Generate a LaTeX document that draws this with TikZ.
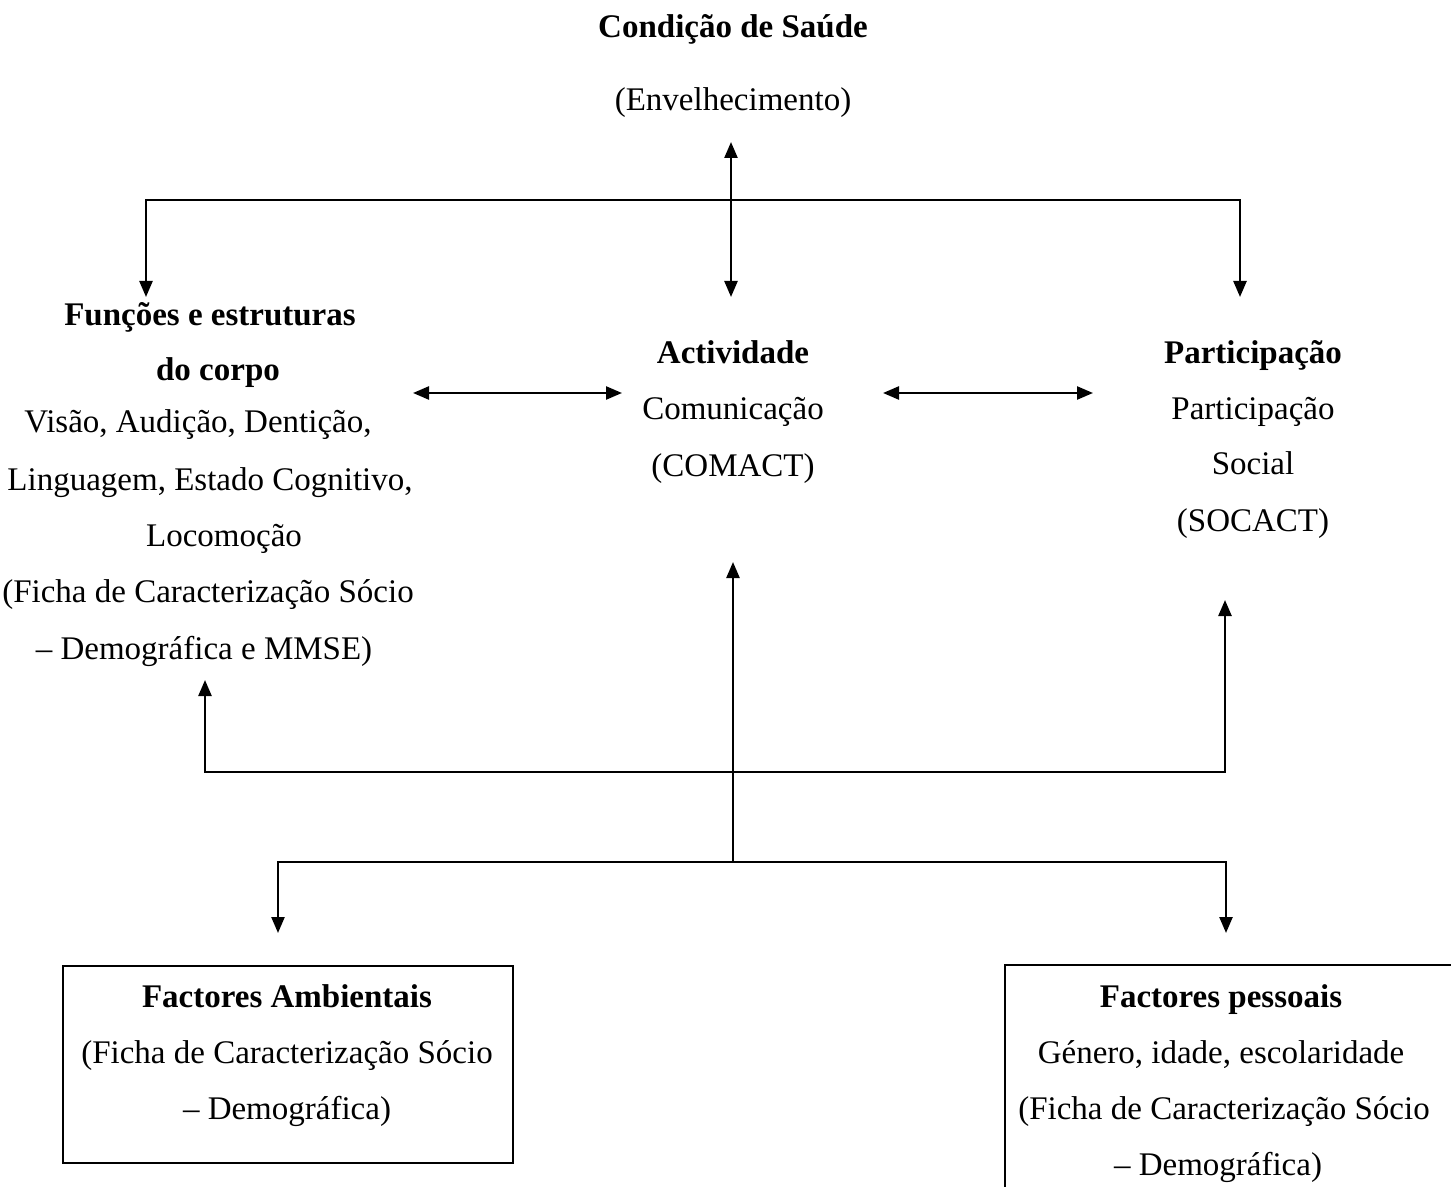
\documentclass[tikz,border=0pt]{standalone}
\usepackage{fontspec}
\setmainfont{Liberation Serif}
\usetikzlibrary{arrows.meta}
\begin{document}
\begin{tikzpicture}[x=0.5pt,y=-0.5pt,
  txt/.style={inner sep=0pt, anchor=base, font=\fontsize{16.5}{20}\selectfont},
  hd/.style={txt, font=\fontsize{16.5}{20}\selectfont\bfseries},
  conn/.style={line width=1.2pt},
  tip/.style={conn, -{Triangle[length=8pt,width=6.5pt]}},
  tips/.style={conn, {Triangle[length=8pt,width=6.5pt]}-{Triangle[length=8pt,width=6.5pt]}},
  boxline/.style={line width=1.2pt}
]
\useasboundingbox (0,0) rectangle (1451,1187);

% Top: health condition
\node[hd]  (cs)  at (733,38)  {Condição de Saúde};
\node[txt] (env) at (733,111) {(Envelhecimento)};

% Body functions
\node[hd]  (f1) at (210,326) {Funções e estruturas};
\node[hd]  (f2) at (218,381) {do corpo};
\node[txt] (f3) at (198,433) {Visão, Audição, Dentição,};
\node[txt] (f4) at (210,490) {Linguagem, Estado Cognitivo,};
\node[txt] (f5) at (224,546) {Locomoção};
\node[txt] (f6) at (208,602) {(Ficha de Caracterização Sócio};
\node[txt] (f7) at (204,659) {– Demográfica e MMSE)};

% Activity
\node[hd]  (a1) at (733,364) {Actividade};
\node[txt] (a2) at (733,420) {Comunicação};
\node[txt] (a3) at (733,476) {(COMACT)};

% Participation
\node[hd]  (p1) at (1253,364) {Participação};
\node[txt] (p2) at (1253,420) {Participação};
\node[txt] (p3) at (1253,474) {Social};
\node[txt] (p4) at (1253,531) {(SOCACT)};

% Environmental factors box
\node[draw, boxline, minimum width=225pt, minimum height=98.5pt, inner sep=0pt, anchor=north west] (envbox) at (62,965) {};
\node[hd]  (e1) at (287,1007) {Factores Ambientais};
\node[txt] (e2) at (287,1063) {(Ficha de Caracterização Sócio};
\node[txt] (e3) at (287,1119) {– Demográfica)};

% Personal factors box (open at right and bottom)
\node[minimum width=235pt, minimum height=120pt, inner sep=0pt, anchor=north west] (perbox) at (1005,965) {};
\draw[boxline] (perbox.north east) -- (perbox.north west) -- (perbox.south west);
\node[hd]  (q1) at (1221,1007) {Factores pessoais};
\node[txt] (q2) at (1221,1063) {Género, idade, escolaridade};
\node[txt] (q3) at (1224,1119) {(Ficha de Caracterização Sócio};
\node[txt] (q4) at (1218,1175) {– Demográfica)};

% Connector coordinates
\coordinate (ctop) at (731,142);
\coordinate (cbot) at (731,297);
\coordinate (hl)   at (146,200);
\coordinate (hr)   at (1240,200);
\coordinate (fl)   at (146,297);
\coordinate (pr)   at (1240,297);
\coordinate (l1)   at (413,393);
\coordinate (l2)   at (622,393);
\coordinate (r1)   at (883,393);
\coordinate (r2)   at (1093,393);
\coordinate (j2)   at (733,862);
\coordinate (aup)  at (733,562);
\coordinate (mL)   at (205,772);
\coordinate (mR)   at (1225,772);
\coordinate (fup)  at (205,680);
\coordinate (pup)  at (1225,600);
\coordinate (bL)   at (278,862);
\coordinate (bR)   at (1226,862);
\coordinate (bLt)  at (278,933);
\coordinate (bRt)  at (1226,933);

% Top connectors
\draw[tips] (ctop) -- (cbot);
\draw[tip] (hr) -- (hl) -- (fl);
\draw[tip] (hl) -- (hr) -- (pr);
\draw[tips] (l1) -- (l2);
\draw[tips] (r1) -- (r2);

% Lower connectors
\draw[tip] (j2) -- (aup);
\draw[tip] (mR) -- (mL) -- (fup);
\draw[tip] (mL) -- (mR) -- (pup);
\draw[tip] (bR) -- (bL) -- (bLt);
\draw[tip] (bL) -- (bR) -- (bRt);
\end{tikzpicture}
\end{document}
